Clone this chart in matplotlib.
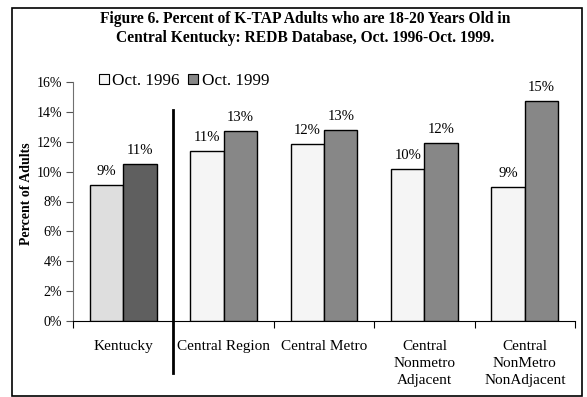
import math
import matplotlib
matplotlib.use("Agg")
import matplotlib.pyplot as plt
from matplotlib.patches import Rectangle, Patch
from matplotlib.ticker import FixedLocator, NullFormatter

plt.rcParams['font.family'] = ['Liberation Serif', 'DejaVu Serif']

categories = ["Kentucky", "Central Region", "Central Metro",
              "Central\nNonmetro\nAdjacent", "Central\nNonMetro\nNonAdjacent"]
oct1996 = [9.1, 11.4, 11.85, 10.15, 9.0]
oct1999 = [10.5, 12.75, 12.8, 11.9, 14.7]
series_names = ["Oct. 1996", "Oct. 1999"]
yticks = [0, 2, 4, 6, 8, 10, 12, 14, 16]

c96 = ["#DEDEDE"] + ["#F5F5F5"] * 4
c99 = ["#5F5F5F"] + ["#878787"] * 4

W, H = 587, 397
fig = plt.figure(figsize=(W / 100, H / 100), dpi=100)
ax = fig.add_axes([73 / W, 1 - 321 / H, (575 - 73) / W, (321 - 82) / H])

x = list(range(len(categories)))
bw = 1 / 3
b1 = ax.bar([i - bw / 2 for i in x], oct1996, width=bw, color=c96,
            edgecolor="black", linewidth=1.0, zorder=3)
b2 = ax.bar([i + bw / 2 for i in x], oct1999, width=bw, color=c99,
            edgecolor="black", linewidth=1.0, zorder=3)

for bars, vals in ((b1, oct1996), (b2, oct1999)):
    for r, v in zip(bars, vals):
        ax.annotate(f"{int(math.floor(v + 0.5))}%",
                    (r.get_x() + r.get_width() / 2, v),
                    xytext=(0, 5), textcoords="offset points",
                    ha="center", va="bottom", fontsize=10.5)

ax.set_xlim(-0.5, len(categories) - 0.5)
ax.set_ylim(0, 16)
ax.set_yticks(yticks)
ax.set_yticklabels([f"{t}%" for t in yticks], fontsize=10)
ax.xaxis.set_major_locator(FixedLocator([i - 0.5 for i in range(len(categories) + 1)]))
ax.xaxis.set_major_formatter(NullFormatter())
ax.set_xticks(x, minor=True)
ax.set_xticklabels(categories, minor=True, fontsize=11, linespacing=1.4)
ax.tick_params(axis="x", which="minor", length=0, pad=14)
ax.tick_params(axis="x", which="major", length=5, direction="out", color="black")
ax.tick_params(axis="y", length=5, direction="out", color="#555555", pad=3)

for s in ("top", "right"):
    ax.spines[s].set_visible(False)
ax.spines["left"].set_color("#707070")
ax.spines["bottom"].set_color("black")

ax.set_ylabel("Percent of Adults", fontsize=10, fontweight="bold")
ax.yaxis.set_label_coords(-(73 - 33) / (575 - 73), (321 - 194) / (321 - 82))

# thick separator line after Kentucky
sep = ax.plot([0.5, 0.5], [0, 1], transform=ax.get_xaxis_transform(),
              color="black", lw=2.0, clip_on=False, zorder=4)[0]
sep.set_ydata([-(373 - 321) / (321 - 82), (321 - 110) / (321 - 82)])

handles = [Patch(facecolor="#F5F5F5", edgecolor="black", lw=0.8),
           Patch(facecolor="#878787", edgecolor="black", lw=0.8)]
fig.legend(handles, series_names, loc="center left",
           bbox_to_anchor=(99 / W, 1 - 81 / H), ncol=2, frameon=False,
           fontsize=12.3, handlelength=0.58, handleheight=0.58,
           handletextpad=0.2, columnspacing=0.5, borderaxespad=0,
           borderpad=0)

fig.text(0.5 * (101 + 510) / W, 1 - 28.5 / H,
         "Figure 6. Percent of K-TAP Adults who are 18-20 Years Old in\n"
         "Central Kentucky: REDB Database, Oct. 1996-Oct. 1999.",
         ha="center", va="center", fontsize=11.2, fontweight="bold",
         linespacing=1.2)

fig.patches.append(Rectangle((12 / W, 1 - 396 / H), (582 - 12) / W, (396 - 8) / H,
                             transform=fig.transFigure, fill=False,
                             edgecolor="black", lw=1.2))

fig.savefig("out.png", dpi=100)
